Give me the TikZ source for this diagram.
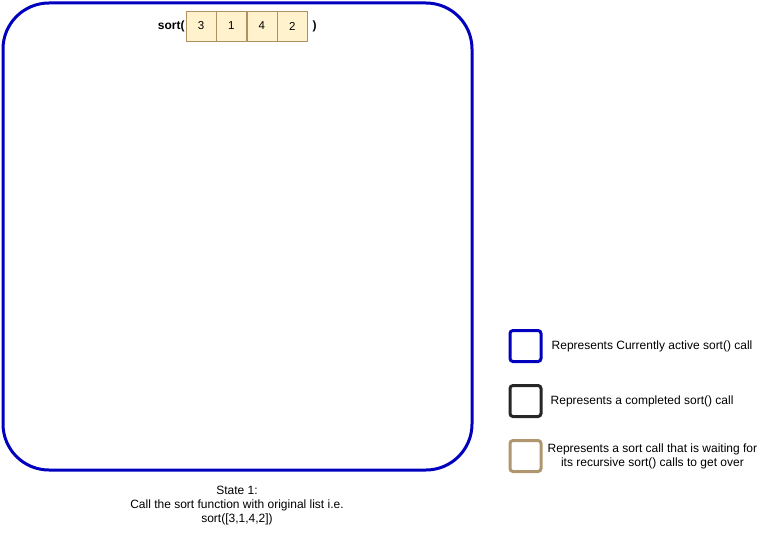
\documentclass[tikz,border=0pt]{standalone}
\usepackage{fontspec}
\setmainfont{Liberation Sans}
\usetikzlibrary{positioning}
\definecolor{activeblue}{RGB}{0,0,190}
\definecolor{waittan}{RGB}{176,150,110}
\definecolor{cellfill}{RGB}{255,242,204}
\definecolor{celldraw}{RGB}{176,144,96}
\tikzset{
	cell/.style={draw=celldraw,fill=cellfill,minimum width=30pt,minimum height=30pt,inner sep=0pt,font=\fontsize{11.5}{13}\selectfont},
	legendbox/.style={line width=3pt,rounded corners=3pt,minimum width=31pt,minimum height=31pt},
	legendtext/.style={font=\fontsize{12}{14}\selectfont,align=center,inner sep=0pt,anchor=west}
}
\begin{document}
\begin{tikzpicture}[x=1pt,y=-1pt]
		\useasboundingbox (0,0) rectangle (762,540);
		\draw[activeblue,line width=3pt,rounded corners=46pt](3,3) rectangle (472,470);
		\node[cell](c1) at (201,26){3};
		\node[cell,right=0pt of c1](c2){1};
		\node[cell,right=0pt of c2](c3){4};
		\node[cell,right=0pt of c3](c4){2};
		\node[left=1pt of c1,inner sep=0pt,font=\bfseries\fontsize{12}{14}\selectfont](call){sort(};
		\node[right=5pt of c4,inner sep=0pt,font=\bfseries\fontsize{12}{14}\selectfont](close){)};
		\node[legendbox,draw=activeblue](active) at (525.5,346){};
		\node[legendbox,draw=black!85](done) at (525.5,401){};
		\node[legendbox,draw=waittan](wait) at (525.5,456){};
		\node[legendtext,right=9pt of active](activetext){Represents Currently active sort() call};
		\node[legendtext,right=8pt of done](donetext){Represents a completed sort() call};
		\node[legendtext,right=5pt of wait](waittext){Represents a sort call that is waiting for\\its recursive sort() calls to get over};
		\node[align=center,inner sep=0pt,font=\fontsize{12}{14}\selectfont](state) at (237,506){State 1:\\Call the sort function with original list i.e.\\sort([3,1,4,2])};
	    \end{tikzpicture}
\end{document}
